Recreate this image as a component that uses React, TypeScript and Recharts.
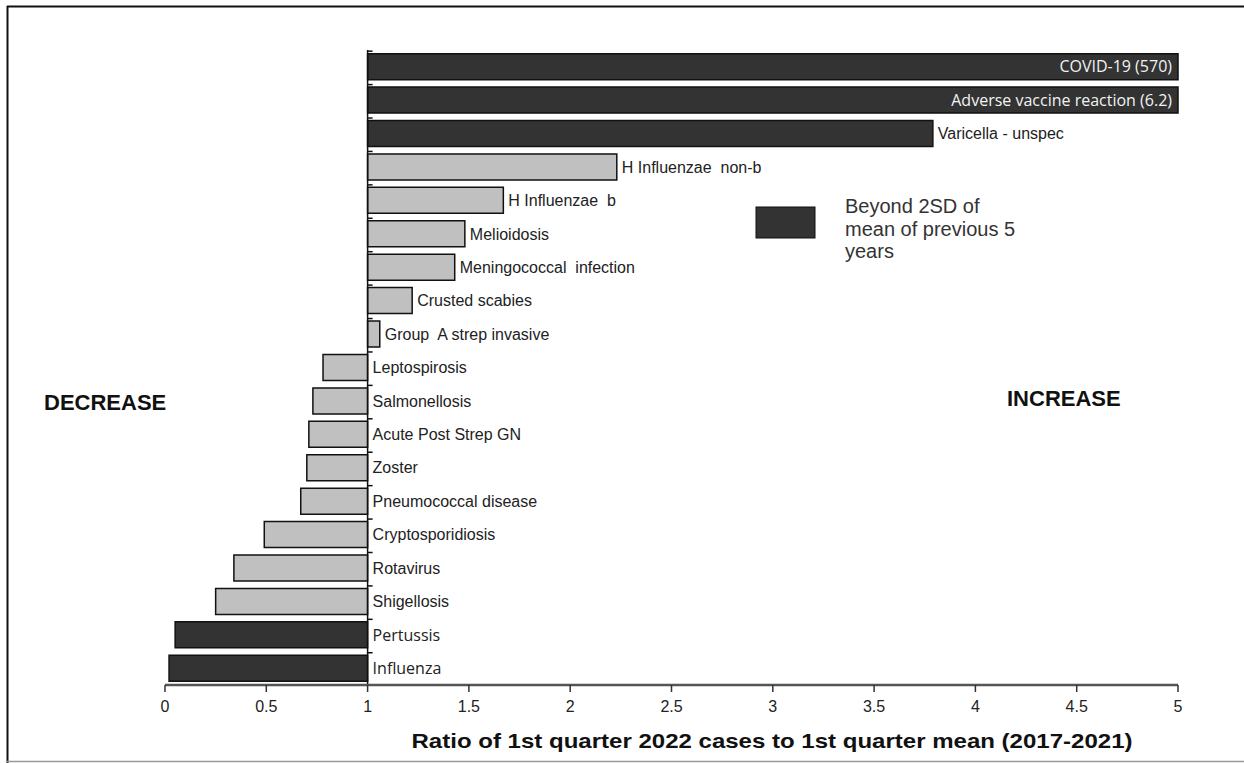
import { BarChart, Bar, XAxis, YAxis, Cell, LabelList, ReferenceLine } from 'recharts'

// categories top to bottom, as drawn
const diseases = [
  'COVID-19', 'Adverse vaccine reaction', 'Varicella - unspec', 'H Influenzae  non-b', 'H Influenzae  b',
  'Melioidosis', 'Meningococcal  infection', 'Crusted scabies', 'Group  A strep invasive', 'Leptospirosis',
  'Salmonellosis', 'Acute Post Strep GN', 'Zoster', 'Pneumococcal disease', 'Cryptosporidiosis',
  'Rotavirus', 'Shigellosis', 'Pertussis', 'Influenza',
]
// ratio of Q1 2022 cases to Q1 mean 2017-2021
const ratios = [570, 6.2, 3.79, 2.23, 1.67, 1.48, 1.43, 1.22, 1.06, 0.78, 0.73, 0.71, 0.7, 0.67, 0.49, 0.34, 0.25, 0.05, 0.02]
// beyond 2SD of mean of previous 5 years
const beyond2SD = [true, true, true, false, false, false, false, false, false, false, false, false, false, false, false, false, false, true, true]
// labels set in the calibri-like face in the original
const calibriLabels = ['COVID-19', 'Adverse vaccine reaction', 'Pertussis', 'Influenza']
const xTicks = [0, 0.5, 1, 1.5, 2, 2.5, 3, 3.5, 4, 4.5, 5]

const AXIS_MAX = 5
const BASE = 1

const data = diseases.map((name, i) => ({
  name,
  ratio: ratios[i],
  dark: beyond2SD[i],
}))

const DARK = '#333333'
const LIGHT = '#c0c0c0'

function BarLabel(props: any) {
  const vb = props.viewBox ?? {}
  const x = vb.x ?? props.x
  const y = vb.y ?? props.y
  const w = vb.width ?? props.width
  const h = vb.height ?? props.height
  const d = data[props.index]
  if (!d) return null
  const lo = Math.min(x, x + w)
  const hi = Math.max(x, x + w)
  const axisX = d.ratio >= BASE ? lo : hi
  const cy = y + h / 2
  const calibri = calibriLabels.includes(d.name)
  const font = calibri ? '"Open Sans", sans-serif' : '"Liberation Sans", Arial, sans-serif'
  const tick = <line x1={axisX} x2={axisX + 5} y1={y - 2.5} y2={y - 2.5} stroke="#111" strokeWidth={1.5} />

  if (d.ratio > AXIS_MAX) {
    return (
      <g>
        {tick}
        <text x={hi - 6} y={cy} dy="0.36em" textAnchor="end" fill="#f2f2f2" fontSize={16} fontFamily={font}>
          {`${d.name} (${d.ratio})`}
        </text>
      </g>
    )
  }
  const tx = d.ratio >= BASE ? hi + 5 : axisX + 5
  return (
    <g>
      {tick}
      <text x={tx} y={cy} dy="0.36em" fill="#222" fontSize={16} fontFamily={font} style={{ whiteSpace: 'pre' }}>
        {d.name}
      </text>
    </g>
  )
}

export default function App() {
  return (
    <div style={{ position: 'absolute', left: 0, top: 0, width: 1244, height: 763, background: '#fff' }}>
      <BarChart
        width={1244}
        height={763}
        data={data}
        layout="vertical"
        margin={{ top: 50, right: 66, bottom: 48, left: 165 }}
        barCategoryGap="11%"
        style={{ fontFamily: '"Liberation Sans", Arial, sans-serif' }}
      >
        <XAxis
          type="number"
          domain={[0, AXIS_MAX]}
          ticks={xTicks}
          height={30}
          tickSize={7}
          tickMargin={9}
          tickFormatter={v => String(v)}
          stroke="#555"
          strokeWidth={2.5}
          tick={{ fill: '#222', fontSize: 16 }}
          tickLine={{ stroke: '#333', strokeWidth: 1.5 }}
        />
        <YAxis type="category" dataKey="name" hide />
        <Bar
          dataKey={(d: any) => [BASE, Math.min(d.ratio, AXIS_MAX)]}
          isAnimationActive={false}
          strokeWidth={1.5}
        >
          {data.map(d => (
            <Cell key={d.name} fill={d.dark ? DARK : LIGHT} stroke="#111" />
          ))}
          <LabelList dataKey="name" content={BarLabel} />
        </Bar>
        <ReferenceLine x={BASE} stroke="#111" strokeWidth={1.5} />
      </BarChart>

      <svg
        width={1244}
        height={763}
        style={{ position: 'absolute', left: 0, top: 0, pointerEvents: 'none', fontFamily: '"Liberation Sans", Arial, sans-serif' }}
      >
        <line x1={7.5} x2={7.5} y1={6} y2={763} stroke="#111" strokeWidth={2} />
        <line x1={7} x2={1244} y1={6.5} y2={6.5} stroke="#111" strokeWidth={2} />
        <line x1={7} x2={1244} y1={761.5} y2={761.5} stroke="#999" strokeWidth={1.5} />

        <text x={44} y={410} fontSize={22} fontWeight="bold" fill="#111">DECREASE</text>
        <text x={1007} y={406} fontSize={22} fontWeight="bold" fill="#111">INCREASE</text>

        <rect x={756} y={207} width={59} height={31} fill={DARK} stroke="#111" />
        <text x={845} y={213} fontSize={20} fill="#333">Beyond 2SD of</text>
        <text x={845} y={235.5} fontSize={20} fill="#333">mean of previous 5</text>
        <text x={845} y={258} fontSize={20} fill="#333">years</text>

        <text x={772} y={748} fontSize={21} fontWeight="bold" fill="#111" textAnchor="middle" textLength={721} lengthAdjust="spacingAndGlyphs">
          Ratio of 1st quarter 2022 cases to 1st quarter mean (2017-2021)
        </text>
      </svg>
    </div>
  )
}
